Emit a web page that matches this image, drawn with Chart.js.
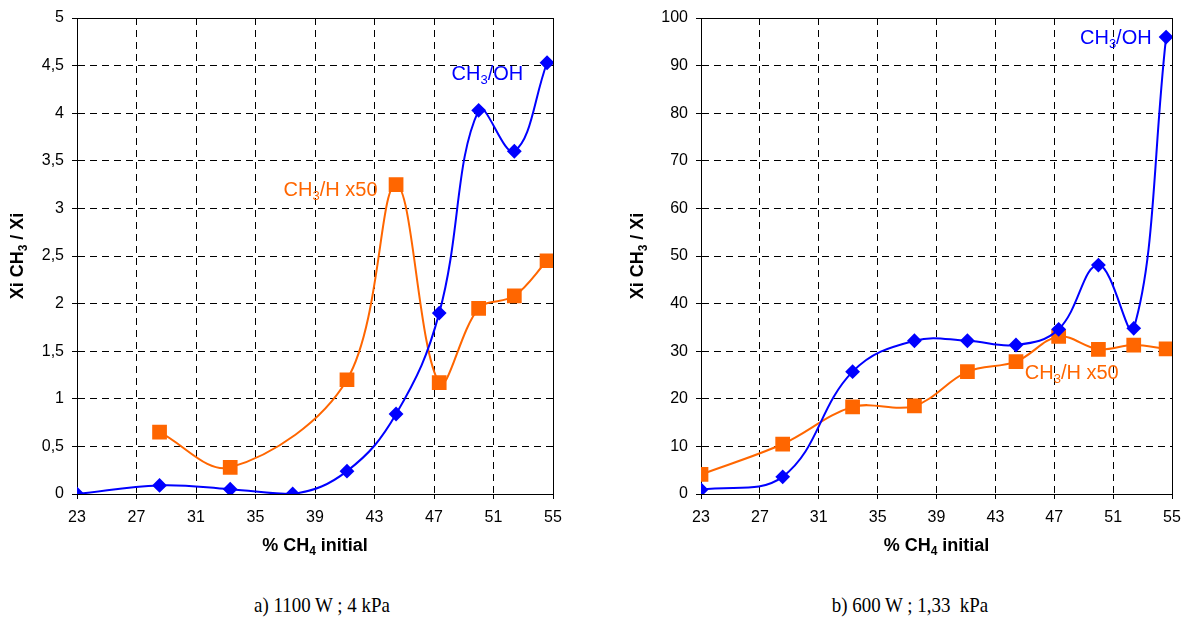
<!DOCTYPE html>
<html>
<head>
<meta charset="utf-8">
<script src="https://cdn.jsdelivr.net/npm/chart.js@4.4.1/dist/chart.umd.min.js"></script>
<style>
  body { margin: 0; background: #fff; width: 1190px; height: 627px; position: relative; overflow: hidden; }
  .box { position: absolute; top: 0; height: 570px; }
  #boxA { left: 0; width: 595px; }
  #boxB { left: 600px; width: 590px; }
  .caption { position: absolute; top: 592px; font-family: "Liberation Serif", "Times New Roman", serif; font-size: 22px; color: #000; white-space: pre; transform: translateX(-50%) scaleX(0.86); }
</style>
</head>
<body>
<div class="box" id="boxA"><canvas id="chartA"></canvas></div>
<div class="box" id="boxB"><canvas id="chartB"></canvas></div>
<div class="caption" style="left:322px">a) 1100 W ; 4 kPa</div>
<div class="caption" style="left:910px">b) 600 W ; 1,33  kPa</div>
<script>
// a) 1100 W ; 4 kPa
var xOH_a = [23, 28.55, 33.3, 37.5, 41.15, 44.45, 47.35, 50.0, 52.4, 54.6];
var yOH_a = [0, 0.09, 0.05, 0, 0.24, 0.84, 1.9, 4.03, 3.6, 4.53];
var xH_a = [28.55, 33.3, 41.15, 44.45, 47.35, 50.0, 52.4, 54.6];
var yH_a = [0.65, 0.28, 1.2, 3.25, 1.17, 1.95, 2.08, 2.45];

// b) 600 W ; 1,33 kPa
var xOH_b = [23, 28.55, 33.3, 37.5, 41.1, 44.4, 47.3, 50.0, 52.4, 54.6];
var yOH_b = [0.9, 3.6, 25.7, 32.2, 32.2, 31.3, 34.6, 48.1, 34.8, 96];
var xH_b = [23, 28.55, 33.3, 37.5, 41.1, 44.4, 47.3, 50.0, 52.4, 54.6];
var yH_b = [4.1, 10.5, 18.3, 18.5, 25.7, 27.8, 33.1, 30.4, 31.3, 30.5];

var xTicks = [23, 27, 31, 35, 39, 43, 47, 51, 55];

var BLUE = "#0000ff";
var ORANGE = "#ff6600";
var FONT = "'Liberation Sans', Arial, sans-serif";

function pairs(xs, ys) {
    var out = [];
    for (var i = 0; i < xs.length; i++) out.push({ x: xs[i], y: ys[i] });
    return out;
}

// text with subscript parts: [["CH"], ["3", true], ["/OH"]]
function richWidth(ctx, parts, size, bold) {
    var w = 0;
    parts.forEach(function (p) {
        ctx.font = (bold ? "bold " : "") + (p[1] ? Math.round(size * 0.65) : size) + "px " + FONT;
        w += ctx.measureText(p[0]).width;
    });
    return w;
}
function drawRich(ctx, parts, x, y, size, bold, color) {
    ctx.fillStyle = color;
    ctx.textBaseline = "middle";
    ctx.textAlign = "left";
    parts.forEach(function (p) {
        var s = p[1] ? Math.round(size * 0.65) : size;
        ctx.font = (bold ? "bold " : "") + s + "px " + FONT;
        ctx.fillText(p[0], x, p[1] ? y + size * 0.3 : y);
        x += ctx.measureText(p[0]).width;
    });
}

var frame = {
    id: "frame",
    beforeDatasetsDraw: function (chart) {
        var a = chart.chartArea, ctx = chart.ctx;
        ctx.save();
        ctx.strokeStyle = "#000";
        ctx.lineWidth = 1;
        ctx.strokeRect(Math.round(a.left) + 0.5, Math.round(a.top) + 0.5, Math.round(a.right - a.left), Math.round(a.bottom - a.top));
        ctx.restore();
    },
    afterDraw: function (chart) {
        var o = chart.options.plugins.frame;
        var a = chart.chartArea, ctx = chart.ctx;
        var sx = chart.scales.x, sy = chart.scales.y;
        ctx.save();
        // x title
        var xt = [["% CH"], ["4", true], [" initial"]];
        var w = richWidth(ctx, xt, 18, true);
        drawRich(ctx, xt, (a.left + a.right) / 2 - w / 2, 546, 18, true, "#000");
        // y title
        var yt = [["Xi CH"], ["3", true], [" / Xi"]];
        w = richWidth(ctx, yt, 18, true);
        ctx.save();
        ctx.translate(o.yTitleX, (a.top + a.bottom) / 2);
        ctx.rotate(-Math.PI / 2);
        drawRich(ctx, yt, -w / 2, 0, 18, true, "#000");
        ctx.restore();
        // series labels
        o.labels.forEach(function (l) {
            drawRich(ctx, l.parts, sx.getPixelForValue(l.x), sy.getPixelForValue(l.y), 20, false, l.color);
        });
        ctx.restore();
    }
};

function makeChart(id, oh, h, yMax, yStep, yAxisW, padRight, yTitleX, labels) {
    return new Chart(document.getElementById(id), {
        type: "line",
        data: {
            datasets: [
                {
                    label: "CH3/OH",
                    data: oh,
                    borderColor: BLUE,
                    backgroundColor: BLUE,
                    borderWidth: 2,
                    tension: 0.4,
                    pointStyle: "rectRot",
                    pointRadius: 6,
                    pointHoverRadius: 6,
                    order: 1
                },
                {
                    label: "CH3/H x50",
                    data: h,
                    borderColor: ORANGE,
                    backgroundColor: ORANGE,
                    borderWidth: 2,
                    tension: 0.35,
                    pointStyle: "rect",
                    pointRadius: 9,
                    pointHoverRadius: 9,
                    order: 2
                }
            ]
        },
        options: {
            responsive: true,
            maintainAspectRatio: false,
            animation: false,
            layout: { padding: { left: 0, right: padRight, top: 18, bottom: 0 } },
            plugins: {
                legend: { display: false },
                tooltip: { enabled: false },
                frame: { yTitleX: yTitleX, labels: labels }
            },
            scales: {
                x: {
                    type: "linear",
                    min: 23,
                    max: 55,
                    afterBuildTicks: function (s) { s.ticks = xTicks.map(function (v) { return { value: v }; }); },
                    afterFit: function (s) { s.height = 76; },
                    grid: { color: "#000", lineWidth: 1, tickLength: 5, tickColor: "#000", tickBorderDash: [] },
                    border: { color: "#000", width: 1, dash: [7, 5] },
                    ticks: { color: "#000", font: { family: FONT, size: 16 }, padding: 9, maxRotation: 0, autoSkip: false }
                },
                y: {
                    min: 0,
                    max: yMax,
                    ticks: {
                        stepSize: yStep,
                        color: "#000",
                        font: { family: FONT, size: 16 },
                        padding: 8,
                        callback: function (v) { return String(v).replace(".", ","); }
                    },
                    afterFit: function (s) { s.width = yAxisW; },
                    grid: { color: "#000", lineWidth: 1, tickLength: 5, tickColor: "#000", tickBorderDash: [] },
                    border: { color: "#000", width: 1, dash: [7, 5] }
                }
            }
        },
        plugins: [frame]
    });
}

makeChart("chartA", pairs(xOH_a, yOH_a), pairs(xH_a, yH_a), 5, 0.5, 77, 42, 18, [
    { parts: [["CH"], ["3", true], ["/OH"]], x: 48.18, y: 4.41, color: BLUE },
    { parts: [["CH"], ["3", true], ["/H x50"]], x: 36.89, y: 3.19, color: ORANGE }
]);

makeChart("chartB", pairs(xOH_b, yOH_b), pairs(xH_b, yH_b), 100, 10, 101, 18, 38, [
    { parts: [["CH"], ["3", true], ["/OH"]], x: 48.75, y: 95.8, color: BLUE },
    { parts: [["CH"], ["3", true], ["/H x50"]], x: 45.0, y: 25.4, color: ORANGE }
]);
</script>
</body>
</html>
